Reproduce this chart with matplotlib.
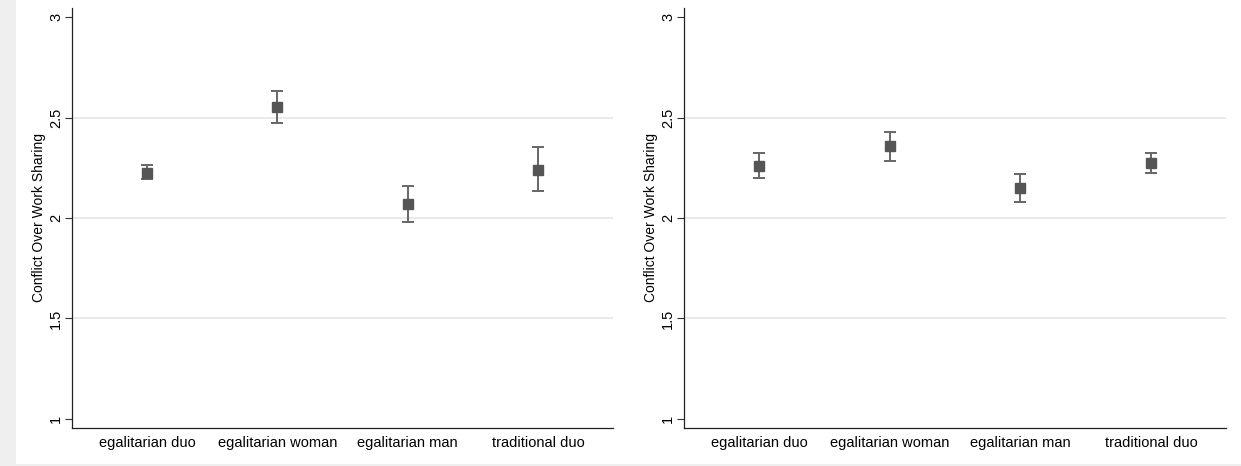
import matplotlib.pyplot as plt
from matplotlib.patches import Rectangle

categories = ["egalitarian duo", "egalitarian woman", "egalitarian man", "traditional duo"]

# left panel: mean and 95% CI
left_mean = [2.225, 2.551, 2.068, 2.240]
left_low = [2.192, 2.471, 1.979, 2.132]
left_high = [2.264, 2.634, 2.161, 2.353]

# right panel
right_mean = [2.259, 2.358, 2.149, 2.275]
right_low = [2.199, 2.284, 2.080, 2.224]
right_high = [2.323, 2.428, 2.219, 2.322]

ytick_vals = [1, 1.5, 2, 2.5, 3]
ytick_labels = ["1", "1.5", "2", "2.5", "3"]
grid_vals = [1.5, 2, 2.5]

plt.rcParams["font.family"] = ["Liberation Sans", "DejaVu Sans"]

W, H = 1241, 466
fig = plt.figure(figsize=(W / 100, H / 100), dpi=100)
fig.patch.set_facecolor("#efefef")
fig.patches.append(Rectangle((16 / W, 2 / H), 1 - 16 / W, 1 - 2 / H,
                             transform=fig.transFigure, facecolor="white",
                             edgecolor="none", zorder=-10))


def panel(left_px, right_px, mean, low, high):
    top_px, bot_px = 8, 428
    ax = fig.add_axes([left_px / W, 1 - bot_px / H,
                       (right_px - left_px) / W, (bot_px - top_px) / H])
    ax.set_facecolor("none")
    x = range(1, len(categories) + 1)
    yerr = [[m - l for m, l in zip(mean, low)], [h - m for m, h in zip(mean, high)]]
    ax.errorbar(x, mean, yerr=yerr, fmt="none", ecolor="#666666",
                elinewidth=1.4, capsize=4.5, capthick=1.4, zorder=3)
    ax.plot(x, mean, "s", color="#555555", markersize=6.8, zorder=4)
    for g in grid_vals:
        ax.axhline(g, color="#e6e6e6", linewidth=1.2, zorder=1)
    ax.set_xlim(0.425, 4.575)
    ax.set_ylim(0.955, 3.045)
    ax.set_xticks(list(x))
    ax.set_xticklabels(categories, fontsize=10.5)
    ax.tick_params(axis="x", length=0, pad=6)
    ax.set_yticks(ytick_vals)
    ax.set_yticklabels(ytick_labels, rotation=90, va="center", fontsize=10.5)
    ax.tick_params(axis="y", length=5, width=0.8, color="#333333", pad=1.5)
    ax.set_ylabel("Conflict Over Work Sharing", fontsize=10, labelpad=2)
    for s in ["top", "right"]:
        ax.spines[s].set_visible(False)
    for s in ["left", "bottom"]:
        ax.spines[s].set_color("#222222")
        ax.spines[s].set_linewidth(0.9)
    return ax


panel(72, 613, left_mean, left_low, left_high)
panel(684, 1226, right_mean, right_low, right_high)

fig.savefig("out.png", dpi=100)
